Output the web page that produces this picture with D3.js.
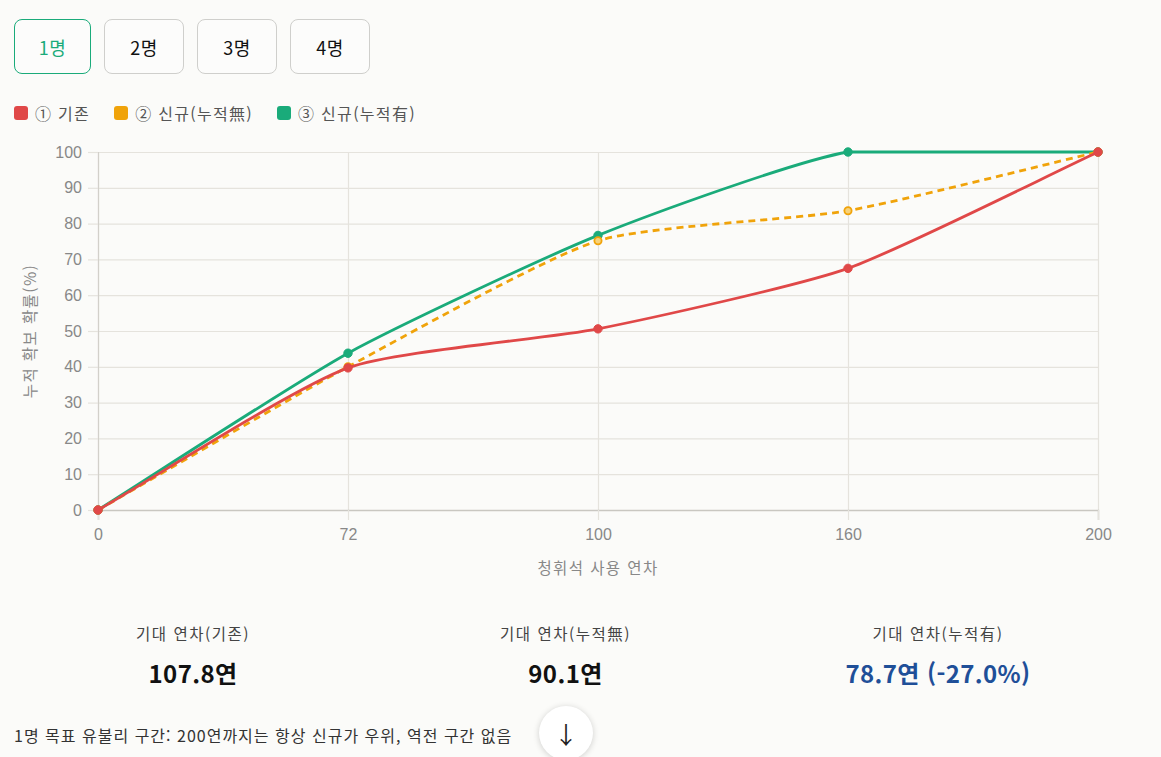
<!DOCTYPE html>
<html lang="ko">
<head>
<meta charset="utf-8">
<script src="https://cdn.jsdelivr.net/npm/d3@7"></script>
<style>
  html, body { margin: 0; padding: 0; background: #fbfbf9; }
  body { width: 1161px; height: 757px; overflow: hidden; position: relative;
         font-family: "Noto Sans CJK KR", "Noto Sans", sans-serif; color: #222; }
  .tabs { position: absolute; left: 14px; top: 19px; display: flex; gap: 13px; }
  .tab { box-sizing: border-box; height: 55px; width: 80px; border: 1px solid #cfcfcc;
         border-radius: 8px; background: #fcfcfb; display: flex; align-items: center;
         justify-content: center; font-size: 18px; letter-spacing: 0.5px; color: #111; }
  .tab.on { width: 77px; border-color: #1aab7a; color: #1aab7a; }
  .legend { position: absolute; left: 14px; top: 101px; display: flex; gap: 24px;
            font-size: 16px; letter-spacing: 1.3px; color: #555; }
  .legend span { display: flex; align-items: center; }
  .legend i { width: 14px; height: 14px; border-radius: 3px; margin-right: 7px; display: inline-block; }
  .stat { position: absolute; width: 300px; text-align: center; }
  .stat .k { font-size: 15.5px; letter-spacing: 1.5px; color: #444; }
  .stat .v { font-size: 24px; font-weight: 700; margin-top: 11px; letter-spacing: 0.4px; color: #111; }
  .note { position: absolute; left: 14px; top: 723px; font-size: 16px; letter-spacing: 1px; color: #333; }
  .fab { position: absolute; left: 539px; top: 706px; width: 54px; height: 54px; border-radius: 50%;
         background: #fff; box-shadow: 0 1px 6px rgba(0,0,0,0.18); display: flex;
         align-items: center; justify-content: center; font-size: 24px; color: #222; }
  svg { position: absolute; left: 0; top: 0; }
</style>
</head>
<body>
<div class="tabs" id="tabs"></div>
<div class="legend" id="legend"></div>
<svg id="chart" width="1161" height="600"></svg>
<div id="stats"></div>
<div class="note">1명 목표 유불리 구간: 200연까지는 항상 신규가 우위, 역전 구간 없음</div>
<div class="fab">↓</div>
<script>
const tabLabels = ["1명", "2명", "3명", "4명"];
const xLabels = ["0", "72", "100", "160", "200"];
const seriesNames = ["① 기존", "② 신규(누적無)", "③ 신규(누적有)"];
const seriesColors = ["#e04848", "#f0a30a", "#1aab7a"];
const baseValues = [0, 39.7, 50.6, 67.5, 100];
const newNoAccValues = [0, 40.0, 75.2, 83.6, 100];
const newAccValues = [0, 43.8, 76.7, 100, 100];
const yTicks = [0, 10, 20, 30, 40, 50, 60, 70, 80, 90, 100];
const statLabels = ["기대 연차(기존)", "기대 연차(누적無)", "기대 연차(누적有)"];
const statValues = ["107.8연", "90.1연", "78.7연 (-27.0%)"];

d3.select("#tabs").selectAll("div").data(tabLabels).join("div")
  .attr("class", (d, i) => i === 0 ? "tab on" : "tab")
  .text(d => d);

const leg = d3.select("#legend").selectAll("span").data(seriesNames).join("span");
leg.append("i").style("background", (d, i) => seriesColors[i]);
leg.append("b").style("font-weight", 400).text(d => d);

const stats = d3.select("#stats").selectAll("div").data(statLabels).join("div")
  .attr("class", "stat")
  .style("left", (d, i) => (193 + i * 372.5 - 150) + "px")
  .style("top", "622px");
stats.append("div").attr("class", "k").text(d => d);
stats.append("div").attr("class", "v")
  .style("color", (d, i) => i === 2 ? "#1f4f98" : "#111")
  .text((d, i) => statValues[i]);

const svg = d3.select("#chart");
const plotL = 98, plotR = 1098, plotT = 152, plotB = 510;
const x = d3.scalePoint().domain(xLabels).range([plotL, plotR]);
const y = d3.scaleLinear().domain([0, 100]).range([plotB, plotT]);
const tickFont = "Liberation Sans, Arial, sans-serif";

// grid
svg.append("g").attr("transform", `translate(${plotL},0)`)
  .call(d3.axisLeft(y).tickValues(yTicks).tickSize(-(plotR - plotL)).tickFormat(""))
  .call(g => g.select(".domain").remove())
  .selectAll("line").attr("stroke", "#e5e3dd").attr("stroke-width", 1.2);
svg.append("g").attr("transform", `translate(0,${plotT})`)
  .call(d3.axisBottom(x).tickSize(plotB - plotT).tickFormat(""))
  .call(g => g.select(".domain").remove())
  .selectAll("line").attr("stroke", "#e5e3dd").attr("stroke-width", 1.2);

// y axis
const yAxis = svg.append("g").attr("transform", `translate(${plotL},0)`)
  .call(d3.axisLeft(y).tickValues(yTicks).tickSize(10).tickPadding(6));
yAxis.select(".domain").attr("stroke", "#d2d0ca").attr("stroke-width", 1.2);
yAxis.selectAll("line").attr("stroke", "#e5e3dd").attr("stroke-width", 1.2);
yAxis.selectAll("text").attr("fill", "#888").style("font-size", "16px").style("font-family", tickFont);

// x axis
const xAxis = svg.append("g").attr("transform", `translate(0,${plotB})`)
  .call(d3.axisBottom(x).tickSize(10).tickPadding(9));
xAxis.select(".domain").attr("stroke", "#c9c7c1").attr("stroke-width", 1.5);
xAxis.selectAll("line").attr("stroke", "#e5e3dd").attr("stroke-width", 1.2);
xAxis.selectAll("text").attr("fill", "#888").style("font-size", "16px").style("font-family", tickFont);

// axis titles
svg.append("text").attr("transform", `translate(36,${(plotT + plotB) / 2}) rotate(-90)`)
  .attr("text-anchor", "middle").attr("fill", "#888").style("font-size", "15.5px")
  .style("letter-spacing", "1.4px")
  .text("누적 확보 확률(%)");
svg.append("text").attr("x", (plotL + plotR) / 2).attr("y", 574)
  .attr("text-anchor", "middle").attr("fill", "#888").style("font-size", "15.5px")
  .style("letter-spacing", "1.4px")
  .text("청휘석 사용 연차");

// spline through the points, control points kept inside the plot area
const tension = 0.2;
function splinePath(values) {
  const pts = values.map((v, i) => [x(xLabels[i]), y(v)]);
  const cps = pts.map((p, i) => {
    const prev = pts[Math.max(i - 1, 0)], next = pts[Math.min(i + 1, pts.length - 1)];
    const d01 = Math.hypot(p[0] - prev[0], p[1] - prev[1]);
    const d12 = Math.hypot(next[0] - p[0], next[1] - p[1]);
    const s = d01 + d12 || 1;
    const fa = tension * d01 / s, fb = tension * d12 / s;
    const dx = next[0] - prev[0], dy = next[1] - prev[1];
    const cap = c => [Math.max(plotL, Math.min(plotR, c[0])), Math.max(plotT, Math.min(plotB, c[1]))];
    return { a: cap([p[0] - fa * dx, p[1] - fa * dy]), b: cap([p[0] + fb * dx, p[1] + fb * dy]) };
  });
  const path = d3.path();
  path.moveTo(pts[0][0], pts[0][1]);
  for (let i = 1; i < pts.length; i++) {
    path.bezierCurveTo(cps[i - 1].b[0], cps[i - 1].b[1], cps[i].a[0], cps[i].a[1], pts[i][0], pts[i][1]);
  }
  return path.toString();
}

// lines: drawn green, orange, red so the first series stays on top
const series = [
  { values: baseValues, color: seriesColors[0], dash: null, hollow: false },
  { values: newNoAccValues, color: seriesColors[1], dash: "7,5", hollow: true },
  { values: newAccValues, color: seriesColors[2], dash: null, hollow: false },
];

series.slice().reverse().forEach(s => {
  svg.append("path")
    .attr("fill", "none")
    .attr("stroke", s.color)
    .attr("stroke-width", 2.8)
    .attr("stroke-dasharray", s.dash)
    .attr("d", splinePath(s.values));
  svg.selectAll(null)
    .data(s.values)
    .enter()
    .append("circle")
    .attr("cx", (d, i) => x(xLabels[i]))
    .attr("cy", d => y(d))
    .attr("r", s.hollow ? 3.6 : 4.2)
    .attr("fill", s.hollow ? "#f7d27a" : s.color)
    .attr("stroke", s.color)
    .attr("stroke-width", s.hollow ? 1.8 : 1);
});
</script>
</body>
</html>
